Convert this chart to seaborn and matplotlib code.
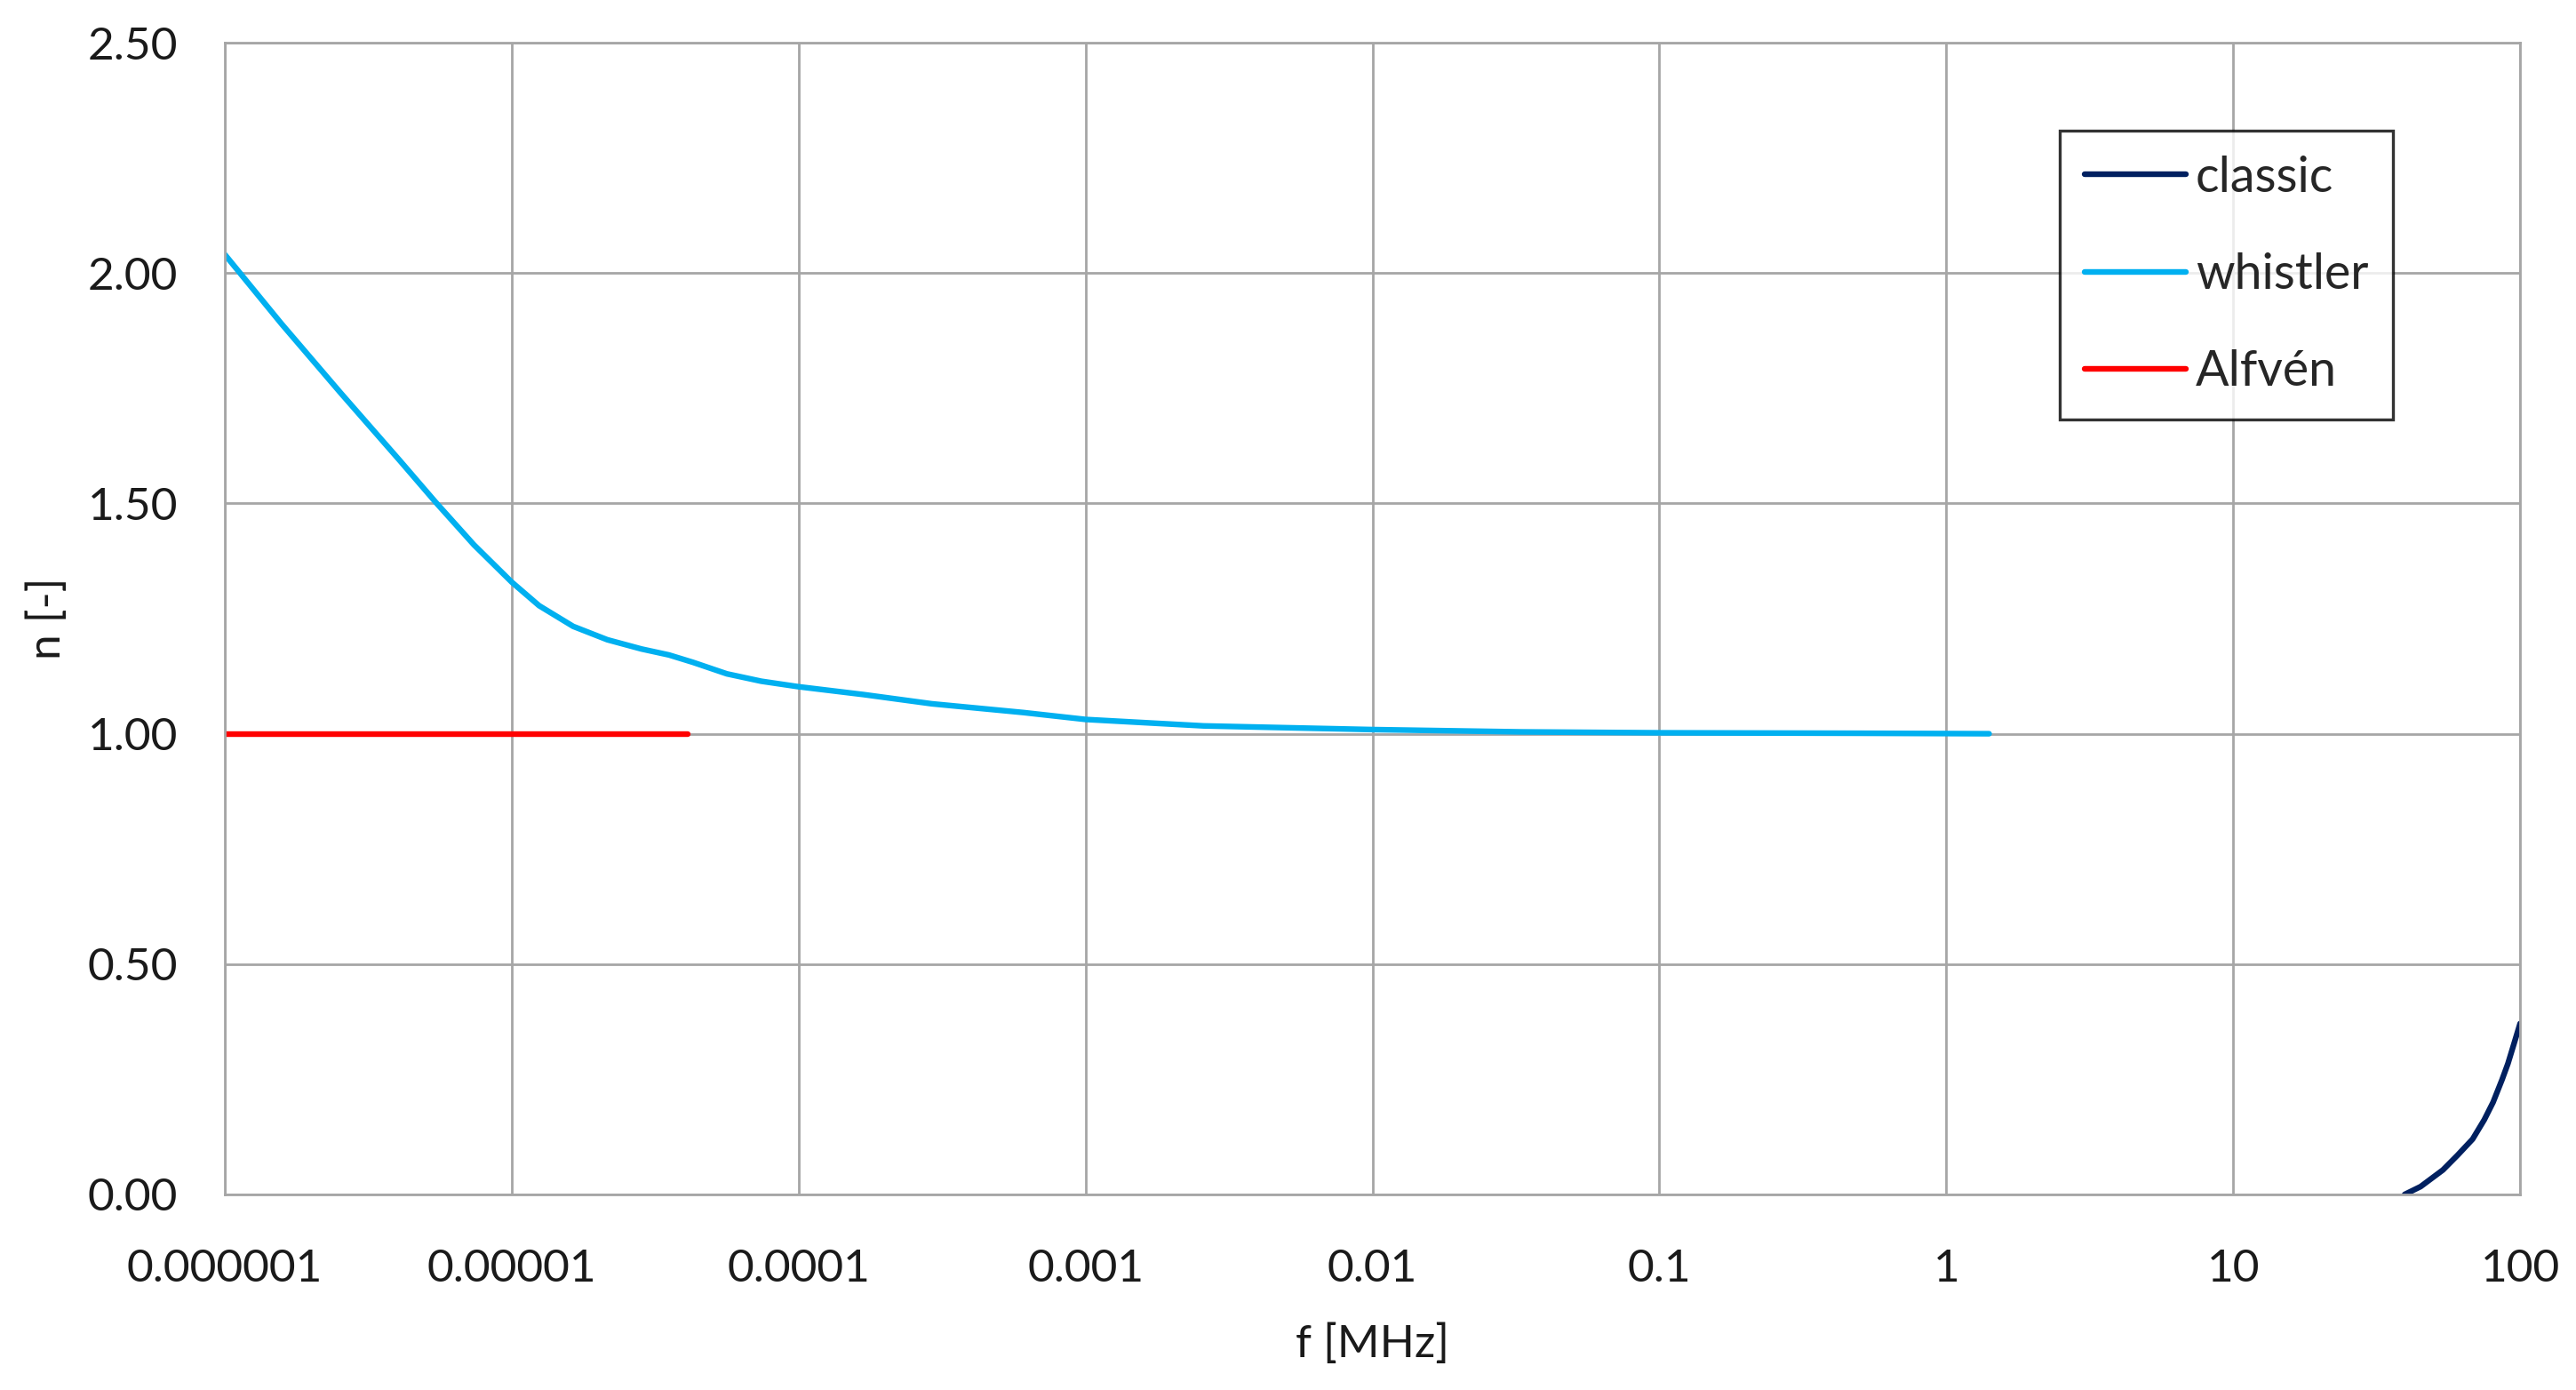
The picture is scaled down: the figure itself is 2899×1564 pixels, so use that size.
import pandas as pd
import matplotlib.pyplot as plt
import seaborn as sns
from matplotlib.ticker import FixedLocator, NullLocator

# Values
whistler_f = [1e-6, 1.574e-6, 2.53e-6, 4.07e-6, 5.42e-6, 7.38e-6, 1e-5, 1.245e-5, 1.637e-5,
              2.153e-5, 2.83e-5, 3.53e-5, 4.28e-5, 5.62e-5, 7.40e-5, 1e-4, 1.683e-4,
              2.91e-4, 6.07e-4, 1e-3, 2.58e-3, 1e-2, 0.033, 0.1, 0.5, 1.41]
whistler_n = [2.040, 1.890, 1.740, 1.593, 1.503, 1.410, 1.329, 1.278, 1.233,
              1.204, 1.184, 1.171, 1.155, 1.130, 1.114, 1.102, 1.085,
              1.065, 1.046, 1.031, 1.017, 1.009, 1.004, 1.002, 1.001, 1.000]

alfven_f = [1e-6, 4.1e-5]
alfven_n = [1.0, 1.0]

classic_f = [39.6, 45.0, 53.8, 60.5, 68.3, 75.0, 80.5, 86.5, 90.7, 95.1, 100.0]
classic_n = [0.0, 0.017, 0.053, 0.085, 0.120, 0.162, 0.200, 0.249, 0.284, 0.326, 0.371]

x_ticks = [1e-6, 1e-5, 1e-4, 1e-3, 1e-2, 1e-1, 1, 10, 100]
x_tick_labels = ['0.000001', '0.00001', '0.0001', '0.001', '0.01', '0.1', '1', '10', '100']
y_ticks = [0.0, 0.5, 1.0, 1.5, 2.0, 2.5]

df = pd.concat([
    pd.DataFrame({'f': classic_f, 'n': classic_n, 'series': 'classic'}),
    pd.DataFrame({'f': whistler_f, 'n': whistler_n, 'series': 'whistler'}),
    pd.DataFrame({'f': alfven_f, 'n': alfven_n, 'series': 'Alfvén'}),
], ignore_index=True)

palette = {'classic': '#002060', 'whistler': '#00B0F0', 'Alfvén': '#FF0000'}

sns.set_theme(style="white")
plt.rcParams['font.family'] = ['Lato', 'DejaVu Sans']

fig = plt.figure(figsize=(14.495, 7.82), dpi=200)
ax = fig.add_axes([0.0873, 0.1407, 0.8910, 0.8286])

sns.lineplot(data=df, x='f', y='n', hue='series', palette=palette,
             estimator=None, sort=True, linewidth=2.3, ax=ax)

ax.set_xscale('log')
ax.set_xlim(1e-6, 100)
ax.set_ylim(0, 2.5)
ax.xaxis.set_major_locator(FixedLocator(x_ticks))
ax.xaxis.set_minor_locator(NullLocator())
ax.set_xticklabels(x_tick_labels)
ax.set_yticks(y_ticks)
ax.set_yticklabels([f'{v:.2f}' for v in y_ticks])

ax.grid(True, which='major', color='#a6a6a6', linewidth=1.0)
for s in ax.spines.values():
    s.set_color('#a6a6a6')
    s.set_linewidth(1.0)

ax.tick_params(axis='both', length=0, labelsize=18.5, colors='#1a1a1a')
ax.tick_params(axis='x', pad=22)
ax.tick_params(axis='y', pad=19)

ax.set_xlabel('f [MHz]', fontsize=18.5, color='#1a1a1a', labelpad=14)
ax.set_ylabel('n [-]', fontsize=18.5, color='#1a1a1a', labelpad=8)

leg = ax.legend(loc='upper left', bbox_to_anchor=(0.7994, 0.9236), borderaxespad=0,
                fontsize=20, frameon=True, fancybox=False, edgecolor='black',
                handlelength=2.05, handletextpad=0.2, labelspacing=1.05,
                borderpad=0.5, title=None)
leg.get_frame().set_linewidth(1.2)
for line in leg.get_lines():
    line.set_linewidth(2.3)

fig.savefig('out.png', dpi=200, facecolor='white')
